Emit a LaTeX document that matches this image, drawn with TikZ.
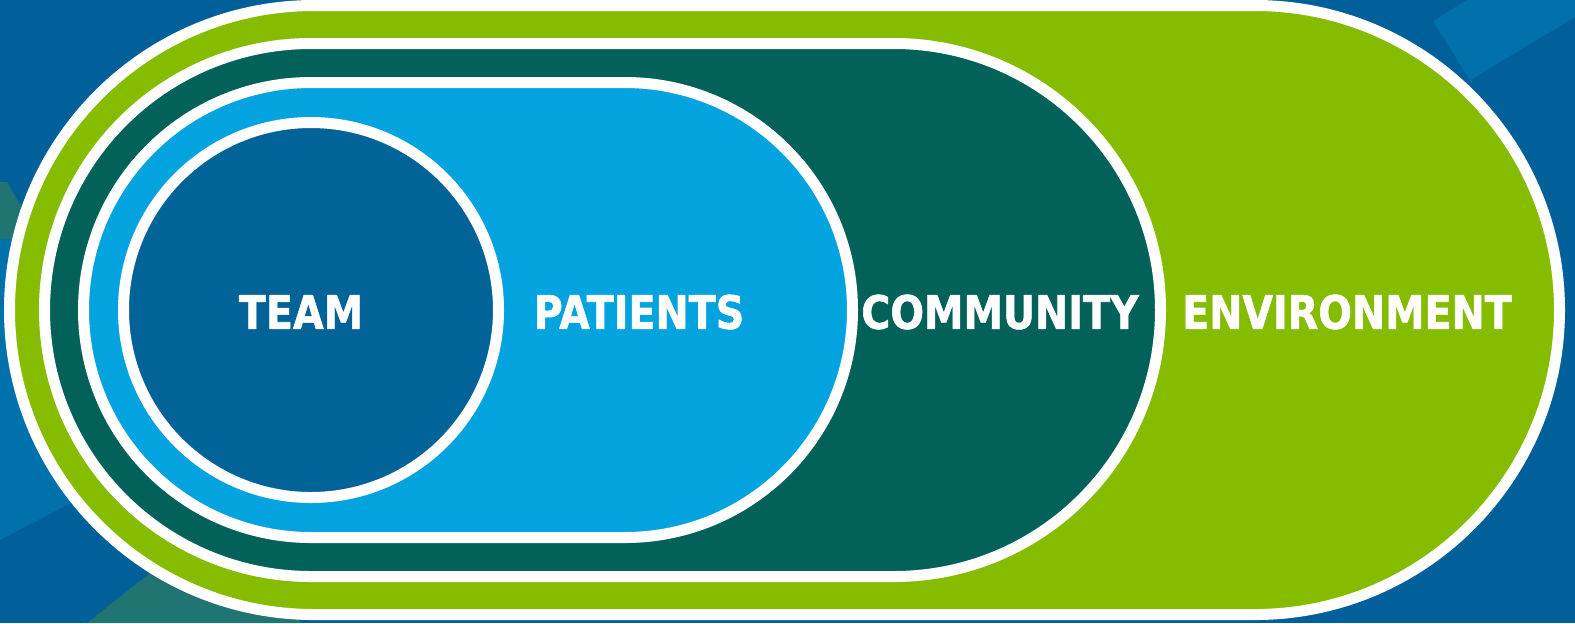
\documentclass[tikz,border=0pt]{standalone}
\usepackage{fontspec}
\usepackage{tikz}
\usetikzlibrary{positioning}
\newfontfamily\ringfont[FakeStretch=0.86, FakeBold=1.2]{DejaVu Sans}

\definecolor{bgblue}{RGB}{1,96,153}
\definecolor{bglight}{RGB}{0,113,170}
\definecolor{bgteal}{RGB}{32,117,115}
\definecolor{envgreen}{RGB}{134,188,0}
\definecolor{commteal}{RGB}{2,98,90}
\definecolor{patblue}{RGB}{3,163,224}
\definecolor{teamblue}{RGB}{2,99,153}

\tikzset{
  ring/.style={draw=white, line width=3.13pt},
  ringlabel/.style={text=white, inner sep=0pt, font=\ringfont\bfseries\fontsize{13.1}{15}\selectfont}
}

\begin{document}
\begin{tikzpicture}[x=0.01cm, y=-0.01cm]
          \fill[bgblue] (0,0) rectangle (1575,623);
          \useasboundingbox (0,0) rectangle (1575,623);
          % background pieces
          \fill[bglight] (1433,21) -- (1467,0) -- (1575,0) -- (1575,17) -- (1470,80) -- cycle;
          \fill[bglight] (0,239) -- (150,239) -- (150,461) -- (0,540) -- cycle;
          \fill[bgteal] (0,182) -- (7,182) -- (40,239) -- (0,239) -- cycle;
          \fill[bgteal] (87,623) -- (150,573) -- (300,573) -- (300,623) -- cycle;
          % the four layers
          \draw[ring, fill=envgreen] (314,5.5) -- (1255,5.5) arc (-90:90:304.5) -- (314,614.5) arc (90:270:304.5) -- cycle;
          \draw[ring, fill=commteal] (311,43.5) -- (894,43.5) arc (-90:90:266.5) -- (311,576.5) arc (90:270:266.5) -- cycle;
          \draw[ring, fill=patblue] (311,82.5) -- (625,82.5) arc (-90:90:227.5) -- (311,537.5) arc (90:270:227.5) -- cycle;
          \draw[ring, fill=teamblue] (311,310) circle (187.5);
          % labels
          \node[ringlabel] (team) at (301,312) {TEAM};
          \node[ringlabel] (patients) at (639,312) {PATIENTS};
          \node[ringlabel] (community) at (1000,312) {COMMUNITY};
          \node[ringlabel] (environment) at (1347,312) {ENVIRONMENT};
        \end{tikzpicture}
\end{document}
